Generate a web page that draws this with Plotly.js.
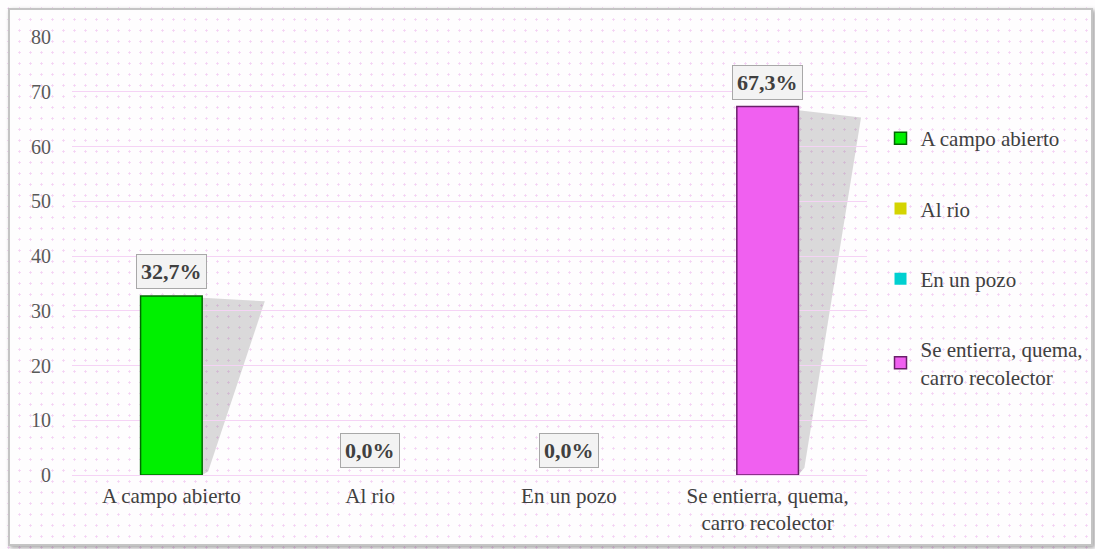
<!DOCTYPE html>
<html>
<head>
<meta charset="utf-8">
<script src="https://cdn.plot.ly/plotly-3.0.1.min.js"></script>
<style>
  html, body { margin: 0; padding: 0; background: #fefdfe; }
  #bg { position: absolute; left: 0; top: 0; width: 1095px; height: 549px;
        background-image: radial-gradient(circle, #f3d2f3 0.9px, rgba(255,255,255,0) 1.4px);
        background-size: 11px 11px; background-position: 3px 3px; }
  #chart { position: absolute; left: 0; top: 0; width: 1095px; height: 549px; }
  #frame { position: absolute; left: 8px; top: 8px; width: 1081px; height: 534px;
           border: 2px solid #c4c4c4; box-shadow: 2px 2px 4px rgba(0,0,0,0.35);
           pointer-events: none; }
</style>
</head>
<body>
<div id="bg"></div>
<div id="chart"></div>
<div id="frame"></div>
<script>
const categories = ["A campo abierto", "Al rio", "En un pozo", "Se entierra, quema,<br>carro recolector"];
const legendNames = ["A campo abierto", "Al rio", "En un pozo", "Se entierra, quema,<br>carro recolector"];
const values = [32.7, 0.0, 0.0, 67.3];
const valueLabels = ["32,7%", "0,0%", "0,0%", "67,3%"];
const yTicks = [0, 10, 20, 30, 40, 50, 60, 70, 80];

const barColors = ["#00f000", "#d4d400", "#00d0d0", "#f060f0"];
const edgeColors = ["#006a00", "#707000", "#006a6a", "#6a206a"];
const barWidth = 0.31;

const font = "'Liberation Serif', 'Times New Roman', serif";

const traces = categories.map((c, i) => ({
  type: "bar",
  x: [c],
  y: [values[i]],
  name: legendNames[i],
  legendgroup: "g" + i,
  width: barWidth,
  marker: { color: barColors[i], line: { color: edgeColors[i], width: values[i] > 0 ? 1.5 : 0 } },
  hoverinfo: "x+y"
}));

// soft shadows behind non-zero bars, derived from data
const shapes = [];
values.forEach((v, i) => {
  if (v <= 0) return;
  const x0 = i + barWidth / 2;
  shapes.push({
    type: "path", xref: "x", yref: "y", layer: "below",
    path: `M ${x0} ${v * 0.99} L ${i + 0.47} ${v * 0.97} L ${x0 + 0.03} ${v * 0.02} L ${x0} 0 Z`,
    fillcolor: "rgba(110,110,110,0.25)", line: { width: 0 }
  });
});

const annotations = values.map((v, i) => ({
  x: categories[i], y: v, xref: "x", yref: "y",
  text: "<b>" + valueLabels[i] + "</b>",
  showarrow: false, yanchor: "bottom", yshift: 7,
  font: { family: font, size: 22, color: "#404040" },
  bgcolor: "#f3f3f3", bordercolor: "#a8a8a8", borderwidth: 1, borderpad: 4
}));

const layout = {
  width: 1095, height: 549,
  margin: { l: 72, r: 228, t: 37, b: 74, autoexpand: false },
  paper_bgcolor: "rgba(0,0,0,0)",
  plot_bgcolor: "rgba(0,0,0,0)",
  barmode: "overlay",
  showlegend: true,
  font: { family: font, size: 21, color: "#404040" },
  xaxis: {
    type: "category",
    categoryarray: categories,
    showgrid: false, zeroline: false, showline: false,
    ticks: "", tickfont: { family: font, size: 21, color: "#404040" },
    ticklabelstandoff: 6
  },
  yaxis: {
    range: [0, 80], tickvals: yTicks, ticktext: yTicks.map(String),
    showgrid: true, gridcolor: "#f5d3f5", gridwidth: 1,
    zeroline: true, zerolinecolor: "#f5d3f5", zerolinewidth: 1,
    showline: false, ticks: "",
    tickfont: { family: font, size: 20, color: "#595959" },
    ticklabelstandoff: 20
  },
  legend: {
    x: 1.017, xanchor: "left", y: 0.815, yanchor: "top",
    bgcolor: "rgba(0,0,0,0)",
    font: { family: font, size: 21, color: "#404040" },
    tracegroupgap: 40, itemwidth: 30
  },
  shapes: shapes,
  annotations: annotations
};

Plotly.newPlot("chart", traces, layout, { displayModeBar: false, staticPlot: true });
</script>
</body>
</html>
